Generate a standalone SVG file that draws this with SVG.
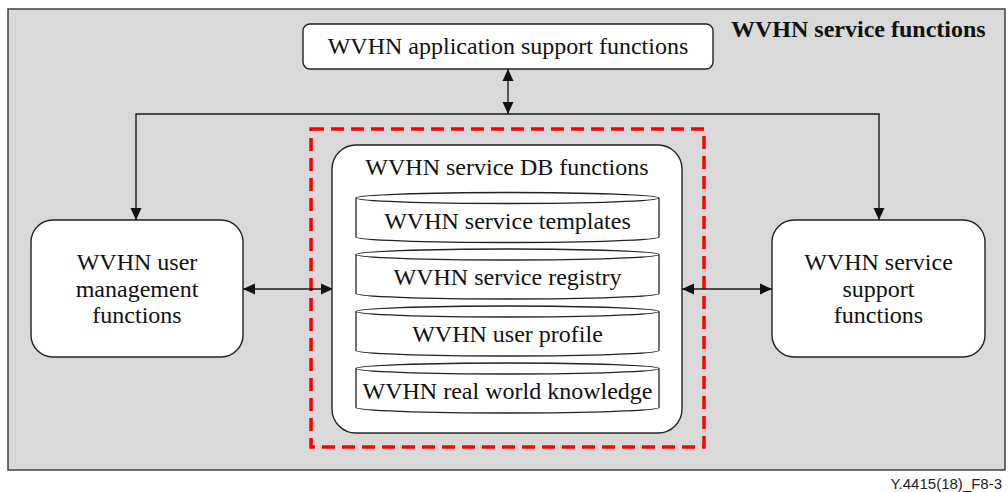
<svg xmlns="http://www.w3.org/2000/svg" width="1008" height="492" viewBox="0 0 1008 492">
  <style>
    .frame { fill: #d9d9d9; stroke: #404040; stroke-width: 1.5; }
    .box { fill: #ffffff; stroke: #222222; stroke-width: 1.4; }
    .cyl { fill: #ffffff; stroke: #222222; stroke-width: 1.3; }
    .zone { fill: none; stroke: #ff0000; stroke-width: 3.5; stroke-dasharray: 13 7; }
    .wire { fill: none; stroke: #1a1a1a; stroke-width: 1.4; }
    .lbl { font-family: "Liberation Serif", "Times New Roman", serif; font-size: 24px; fill: #111111; text-anchor: middle; }
    .title { font-family: "Liberation Serif", "Times New Roman", serif; font-size: 24px; font-weight: bold; fill: #111111; }
    .tag { font-family: "Liberation Sans", Arial, sans-serif; font-size: 15px; fill: #222222; text-anchor: end; }
  </style>
  <defs>
    <marker id="head" viewBox="0 0 12 12" refX="12" refY="6" markerWidth="12" markerHeight="12" markerUnits="userSpaceOnUse" orient="auto-start-reverse">
      <path d="M0,0.5 L12,6 L0,11.5 Z" fill="#111111"/>
    </marker>
  </defs>

  <!-- enclosing frame -->
  <rect class="frame" x="8" y="9" width="997" height="461"/>
  <text class="title" x="731" y="37">WVHN service functions</text>

  <!-- red dashed zone around the DB block -->
  <rect class="zone" x="311" y="129" width="393" height="318"/>

  <!-- connectors -->
  <g id="connectors">
    <line class="wire" x1="508" y1="69" x2="508" y2="114" marker-start="url(#head)" marker-end="url(#head)"/>
    <path class="wire" d="M136,220 V114 H879 V220" marker-start="url(#head)" marker-end="url(#head)"/>
    <line class="wire" x1="243" y1="289" x2="333" y2="289" marker-start="url(#head)" marker-end="url(#head)"/>
    <line class="wire" x1="682" y1="289" x2="772" y2="289" marker-start="url(#head)" marker-end="url(#head)"/>
  </g>

  <g id="app-support">
    <rect class="box" x="303" y="24" width="410" height="45" rx="7"/>
    <text class="lbl" x="508" y="53.5">WVHN application support functions</text>
  </g>

  <g id="user-management">
    <rect class="box" x="31" y="220" width="212" height="137" rx="22"/>
    <text class="lbl" x="137" y="270">WVHN user</text>
    <text class="lbl" x="137" y="296.5">management</text>
    <text class="lbl" x="137" y="323">functions</text>
  </g>

  <g id="service-support">
    <rect class="box" x="772" y="220" width="213" height="137" rx="22"/>
    <text class="lbl" x="878.5" y="270">WVHN service</text>
    <text class="lbl" x="878.5" y="296.5">support</text>
    <text class="lbl" x="878.5" y="323">functions</text>
  </g>

  <g id="service-db">
    <rect class="box" x="332" y="145" width="350" height="288" rx="24"/>
    <text class="lbl" x="507" y="175">WVHN service DB functions</text>
  </g>

  <g id="db-templates">
    <path class="cyl" d="M356,198 A151.5,5.5 0 0 1 659,198 V237 A151.5,5.5 0 0 1 356,237 Z M356,198 A151.5,5.5 0 0 0 659,198"/>
    <text class="lbl" x="507.5" y="228.5">WVHN service templates</text>
  </g>

  <g id="db-registry">
    <path class="cyl" d="M356,254.5 A151.5,5.5 0 0 1 659,254.5 V293.5 A151.5,5.5 0 0 1 356,293.5 Z M356,254.5 A151.5,5.5 0 0 0 659,254.5"/>
    <text class="lbl" x="507.5" y="285">WVHN service registry</text>
  </g>

  <g id="db-user-profile">
    <path class="cyl" d="M356,311.5 A151.5,5.5 0 0 1 659,311.5 V350.5 A151.5,5.5 0 0 1 356,350.5 Z M356,311.5 A151.5,5.5 0 0 0 659,311.5"/>
    <text class="lbl" x="507.5" y="342">WVHN user profile</text>
  </g>

  <g id="db-knowledge">
    <path class="cyl" d="M356,368.5 A151.5,5.5 0 0 1 659,368.5 V407.5 A151.5,5.5 0 0 1 356,407.5 Z M356,368.5 A151.5,5.5 0 0 0 659,368.5"/>
    <text class="lbl" x="507.5" y="398.5">WVHN real world knowledge</text>
  </g>

  <text class="tag" x="1002" y="489">Y.4415(18)_F8-3</text>
</svg>
